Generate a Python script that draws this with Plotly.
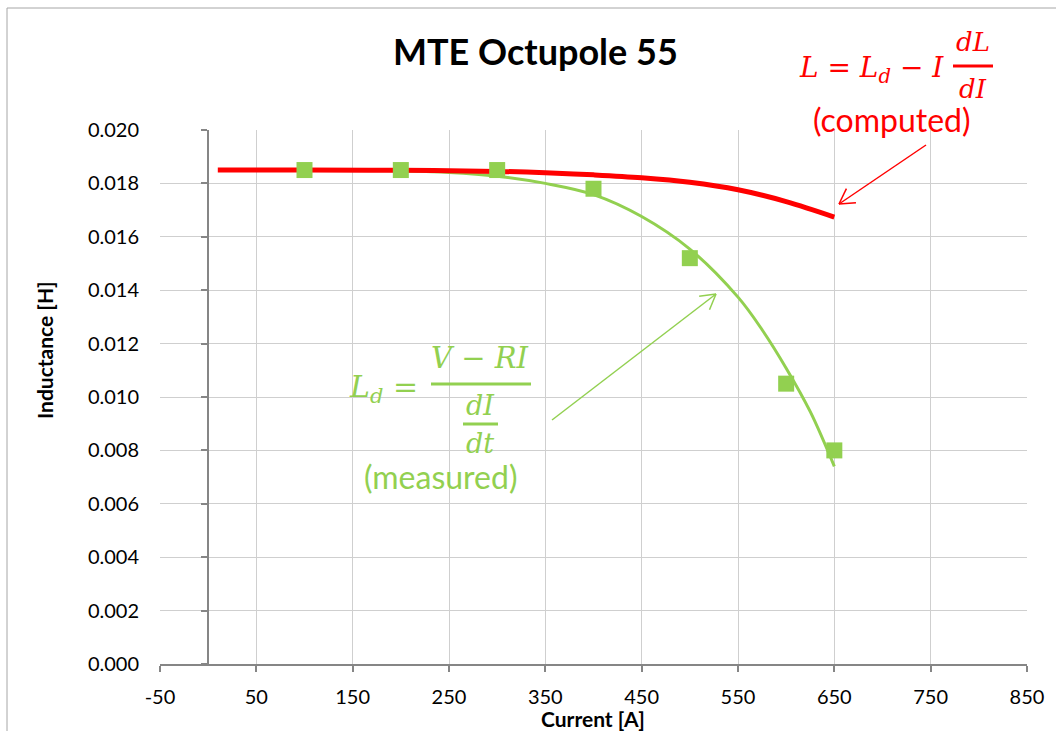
import math
import plotly.graph_objects as go

# Measured differential inductance at each current step
current_meas = [100, 200, 300, 400, 500, 600, 650]
ld_meas = [0.0185, 0.0185, 0.0185, 0.0178, 0.0152, 0.0105, 0.0080]

# Smooth trend through the measured differential inductance
fit_current = [100, 150, 200, 250, 300, 350, 400, 450, 500, 550, 575, 600, 625, 650]
fit_ld = [0.0185, 0.0185, 0.01847, 0.01841, 0.01827, 0.01800, 0.01758, 0.01676,
          0.01554, 0.01374, 0.01252, 0.01108, 0.00945, 0.00740]

# Computed (apparent) inductance L = Ld - I dL/dI
l_current = [10, 100, 200, 300, 350, 400, 450, 500, 550, 600, 650]
l_computed = [0.0185, 0.0185, 0.01849, 0.01845, 0.0184, 0.01832, 0.01821, 0.01804,
              0.01776, 0.01732, 0.01674]

x_ticks = [-50, 50, 150, 250, 350, 450, 550, 650, 750, 850]
x_labels = ["-50", "50", "150", "250", "350", "450", "550", "650", "750", "850"]
y_ticks = [0.000, 0.002, 0.004, 0.006, 0.008, 0.010, 0.012, 0.014, 0.016, 0.018, 0.020]

GREEN = "#92d050"
RED = "#ff0000"
GRID = "#cfcfcf"
AXIS = "#868686"
FONT = "Lato"
MATH = "DejaVu Serif"
SP = "\u00a0"

W, H = 1056, 731
PL, PR, PT, PB = 160, 1027, 130, 664


def fx(px):
    return (px - PL) / (PR - PL)


def fy(py):
    return (PB - py) / (PB - PT)


fig = go.Figure()
fig.add_trace(go.Scatter(x=fit_current, y=fit_ld, mode="lines",
                         line=dict(color=GREEN, width=3, shape="spline", smoothing=1.0),
                         hoverinfo="skip"))
fig.add_trace(go.Scatter(x=l_current, y=l_computed, mode="lines",
                         line=dict(color=RED, width=5, shape="spline", smoothing=1.0)))
fig.add_trace(go.Scatter(x=current_meas, y=ld_meas, mode="markers",
                         marker=dict(symbol="square", size=16, color=GREEN)))
# carrier for the vertical axis drawn through I = 0
fig.add_trace(go.Scatter(x=[None], y=[None], yaxis="y2", mode="lines",
                         hoverinfo="skip"))

shapes = []
# chart frame
shapes.append(dict(type="rect", xref="paper", yref="paper",
                   x0=fx(7), x1=fx(1070), y0=fy(8), y1=fy(745),
                   line=dict(color="#a6a6a6", width=1), fillcolor="rgba(0,0,0,0)",
                   layer="below"))
# white backgrounds of the two text boxes
shapes.append(dict(type="rect", xref="paper", yref="paper",
                   x0=fx(265), x1=fx(615), y0=fy(503), y1=fy(333),
                   line=dict(width=0), fillcolor="white", layer="between"))
shapes.append(dict(type="rect", xref="paper", yref="paper",
                   x0=fx(753), x1=fx(1050), y0=fy(150), y1=fy(110),
                   line=dict(width=0), fillcolor="white", layer="between"))


def hline(x0, x1, y, color, width):
    return dict(type="line", xref="paper", yref="paper",
                x0=fx(x0), x1=fx(x1), y0=fy(y), y1=fy(y),
                line=dict(color=color, width=width))


def arrow(tail, head, color, arm=17, spread=30):
    (tx, ty), (hx, hy) = tail, head
    ang = math.atan2(ty - hy, tx - hx)
    out = [dict(type="line", xref="paper", yref="paper",
                x0=fx(tx), y0=fy(ty), x1=fx(hx), y1=fy(hy),
                line=dict(color=color, width=1.5))]
    for s in (-1, 1):
        a = ang + s * math.radians(spread)
        ex, ey = hx + arm * math.cos(a), hy + arm * math.sin(a)
        out.append(dict(type="line", xref="paper", yref="paper",
                        x0=fx(hx), y0=fy(hy), x1=fx(ex), y1=fy(ey),
                        line=dict(color=color, width=1.5)))
    return out


# fraction bars
shapes.append(hline(953, 993, 66, RED, 3))
shapes.append(hline(431, 531, 384, GREEN, 3))
shapes.append(hline(463, 498, 424, GREEN, 3))
# pointer arrows
shapes += arrow((926, 145), (839, 204), RED)
shapes += arrow((552, 420), (716, 294), GREEN)

ann = []


def text(s, px, py, size, color="black", family=FONT, xanchor="center", angle=0):
    ann.append(dict(text=s, xref="paper", yref="paper", x=fx(px), y=fy(py),
                    xanchor=xanchor, yanchor="middle", showarrow=False,
                    textangle=angle,
                    font=dict(family=family, size=size, color=color)))


text("<b>MTE Octupole 55</b>", 535, 51, 36)
text("<b>Inductance [H]</b>", 44, 350, 21, angle=-90)
text("<b>Current [A]</b>", 593, 718, 21)

# L = Ld - I dL/dI (computed)
text(f"<i>L</i>{SP}={SP}<i>L<sub>d</sub></i>{SP}−{SP}<i>I</i>",
     946, 70, 28, RED, MATH, xanchor="right")
text("<i>dL</i>", 973, 42, 26, RED, MATH)
text("<i>dI</i>", 973, 89, 26, RED, MATH)
text("(computed)", 892, 119, 32, RED)

# Ld = (V - RI) / (dI/dt) (measured)
text(f"<i>L<sub>d</sub></i>{SP}=", 420, 388, 30, GREEN, MATH, xanchor="right")
text(f"<i>V</i>{SP}−{SP}<i>RI</i>", 480, 358, 29, GREEN, MATH)
text("<i>dI</i>", 480, 405, 27, GREEN, MATH)
text("<i>dt</i>", 480, 443, 27, GREEN, MATH)
text("(measured)", 440, 476, 32, GREEN)

fig.update_layout(
    width=W, height=H, autosize=False,
    margin=dict(l=PL, r=W - PR, t=PT, b=H - PB),
    paper_bgcolor="white", plot_bgcolor="white",
    showlegend=False,
    xaxis=dict(range=[-50, 850], tickvals=x_ticks, ticktext=x_labels, showgrid=True,
               gridcolor=GRID, gridwidth=1, zeroline=False, showline=True,
               linecolor=AXIS, linewidth=1.5, ticks="outside", ticklen=6,
               tickcolor=AXIS, tickwidth=1.5, ticklabelstandoff=8,
               tickfont=dict(family=FONT, size=20, color="black")),
    yaxis=dict(range=[0, 0.020], tickvals=y_ticks, tickformat=".3f", showgrid=True,
               gridcolor=GRID, gridwidth=1, zeroline=False, showline=False,
               ticks="", ticklabelstandoff=20,
               tickfont=dict(family=FONT, size=20, color="black")),
    yaxis2=dict(range=[0, 0.020], tickvals=y_ticks, overlaying="y", anchor="free",
                position=fx(208), side="left", showgrid=False, zeroline=False,
                showline=True, linecolor=AXIS, linewidth=1.5, ticks="outside",
                ticklen=6, tickcolor=AXIS, tickwidth=1.5, showticklabels=False),
    shapes=shapes,
    annotations=ann,
)

fig.write_html("out.html")
